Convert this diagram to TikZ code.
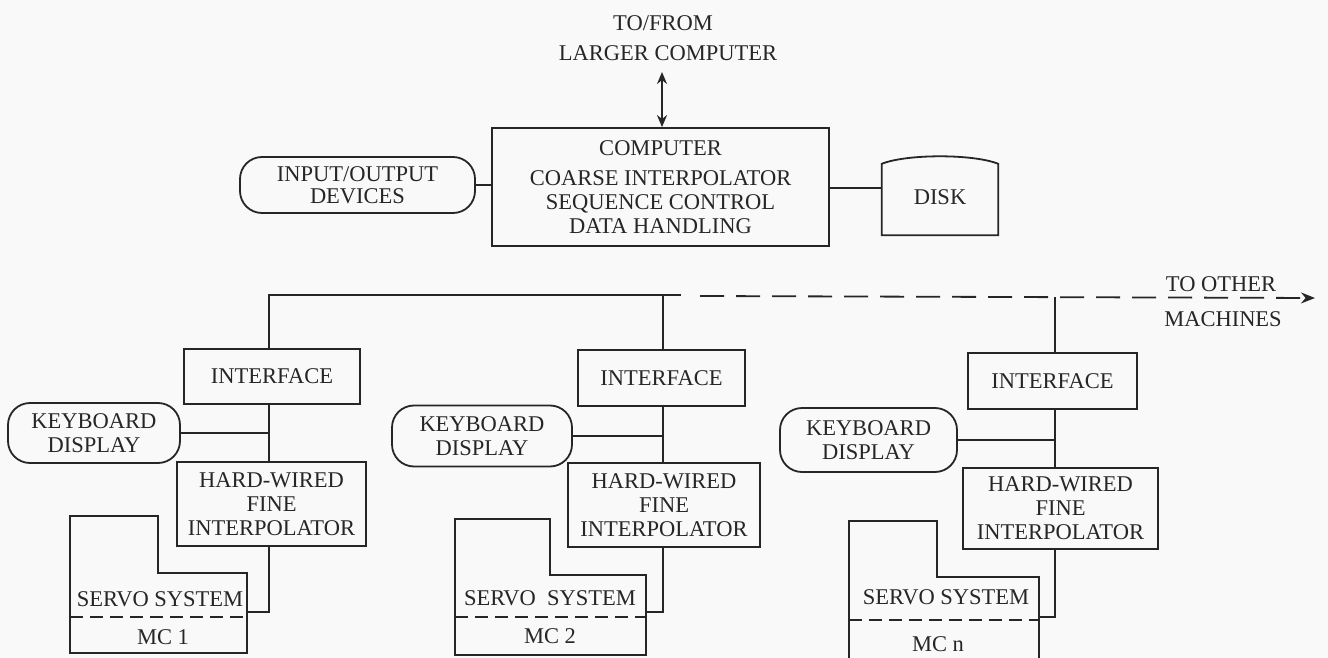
\documentclass[tikz,border=0pt]{standalone}
\usepackage{fontspec}
\setmainfont{Liberation Serif}
\usetikzlibrary{arrows.meta}
\begin{document}
\begin{tikzpicture}[x=1pt,y=-1pt,
  ln/.style={line width=1.8pt, draw=black!85},
  txt/.style={inner sep=0pt, align=center, text=black!85, font=\fontsize{22.5}{24}\selectfont},
  box/.style={txt, ln, draw, rectangle},
  pill/.style={box, rounded corners=22pt},
  busdash/.style={ln, dash pattern=on 24pt off 12pt},
  mcdash/.style={ln, line width=1.6pt, dash pattern=on 13pt off 7pt},
  tip/.style={-{Stealth[length=14pt,width=11pt]}},
  dtip/.style={{Stealth[length=12pt,width=10pt]}-{Stealth[length=12pt,width=10pt]}},
]
\fill[gray!5] (0,0) rectangle (1328,658);
\useasboundingbox (0,0) rectangle (1328,658);

% top
\node[txt] (tofrom) at (663,23) {TO/FROM};
\node[txt] (larger) at (668,53) {LARGER COMPUTER};
\node[box, minimum width=337pt, minimum height=118pt] (comp) at (660.5,187)
  {COMPUTER\\[6pt]COARSE INTERPOLATOR\\SEQUENCE CONTROL\\DATA HANDLING};
\coordinate (toparr) at (662,72);
\draw[ln, dtip] (toparr) -- (toparr |- comp.north);

\node[pill, minimum width=235pt, minimum height=56pt, font=\fontsize{22.5}{22}\selectfont] (io) at (357.5,185) {INPUT/OUTPUT\\DEVICES};
\draw[ln] (io.east) -- (comp.west |- io.east);

\node[txt, minimum width=116pt, minimum height=75pt] (disk) at (940,197.5) {DISK};
\draw[ln] (disk.south west) -- ([yshift=-4pt]disk.north west)
  .. controls ([xshift=25pt,yshift=6pt]disk.north west) and ([xshift=-25pt,yshift=6pt]disk.north east) ..
  ([yshift=-4pt]disk.north east) -- (disk.south east) -- cycle;
\coordinate (dl) at (882,188);
\draw[ln] (comp.east |- dl) -- (dl);

% bus
\coordinate (c1) at (269,295);
\coordinate (c2) at (663,295);
\coordinate (c3) at (1055,297);
\coordinate (busM) at (681,295);
\coordinate (busD) at (700,296);
\coordinate (busR) at (1315,298);
\draw[busdash, tip] (busD) -- (busR);
\node[txt] (toother) at (1221,284) {TO OTHER};
\node[txt] (machines) at (1223,319) {MACHINES};

% column 1
\node[box, minimum width=176pt, minimum height=55pt] (int1) at (272,376.5) {INTERFACE};
\node[pill, minimum width=172pt, minimum height=60pt] (kb1) at (94,433) {KEYBOARD\\DISPLAY};
\node[box, minimum width=189pt, minimum height=84pt] (hw1) at (271.5,504) {HARD-WIRED\\FINE\\INTERPOLATOR};
\draw[ln] (int1.north -| c1) -- (c1) -- (busM);
\draw[ln] (int1.south -| c1) -- (hw1.north -| c1);
\draw[ln] (kb1.east) -- (kb1.east -| c1);
\draw[ln] (70,653) -- (70,516) -- (158,516) -- (158,573) -- (247,573) -- (247,653) -- cycle;
\draw[mcdash] (70,617) -- (247,617);
\node[txt] (sv1) at (160,599) {SERVO SYSTEM};
\node[txt] (mc1) at (163,637) {MC 1};
\coordinate (sv1r) at (247,612);
\draw[ln] (hw1.south -| c1) |- (sv1r);

% column 2
\node[box, minimum width=167pt, minimum height=56pt] (int2) at (661.5,378) {INTERFACE};
\node[pill, minimum width=180pt, minimum height=61pt] (kb2) at (482,436) {KEYBOARD\\DISPLAY};
\node[box, minimum width=192pt, minimum height=84pt] (hw2) at (664,505) {HARD-WIRED\\FINE\\INTERPOLATOR};
\draw[ln] (c2) -- (int2.north -| c2);
\draw[ln] (int2.south -| c2) -- (hw2.north -| c2);
\draw[ln] (kb2.east) -- (kb2.east -| c2);
\draw[ln] (455,655) -- (455,519) -- (550,519) -- (550,575) -- (646,575) -- (646,655) -- cycle;
\draw[mcdash] (455,617) -- (646,617);
\node[txt] (sv2) at (550,598) {SERVO\ \ SYSTEM};
\node[txt] (mc2) at (550,636) {MC 2};
\coordinate (sv2r) at (646,612);
\draw[ln] (hw2.south -| c2) |- (sv2r);

% column 3
\node[box, minimum width=169pt, minimum height=56pt] (int3) at (1052.5,381) {INTERFACE};
\node[pill, minimum width=177pt, minimum height=64pt] (kb3) at (868.5,440) {KEYBOARD\\DISPLAY};
\node[box, minimum width=195pt, minimum height=81pt] (hw3) at (1060.5,508.5) {HARD-WIRED\\FINE\\INTERPOLATOR};
\draw[ln] (c3) -- (int3.north -| c3);
\draw[ln] (int3.south -| c3) -- (hw3.north -| c3);
\draw[ln] (kb3.east) -- (kb3.east -| c3);
\draw[ln] (849,658) -- (849,521) -- (937,521) -- (937,577) -- (1039,577) -- (1039,658);
\draw[mcdash] (849,620) -- (1039,620);
\node[txt] (sv3) at (946,597) {SERVO SYSTEM};
\node[txt] (mc3) at (938,644) {MC n};
\coordinate (sv3r) at (1039,617);
\draw[ln] (hw3.south -| c3) |- (sv3r);
\end{tikzpicture}
\end{document}
